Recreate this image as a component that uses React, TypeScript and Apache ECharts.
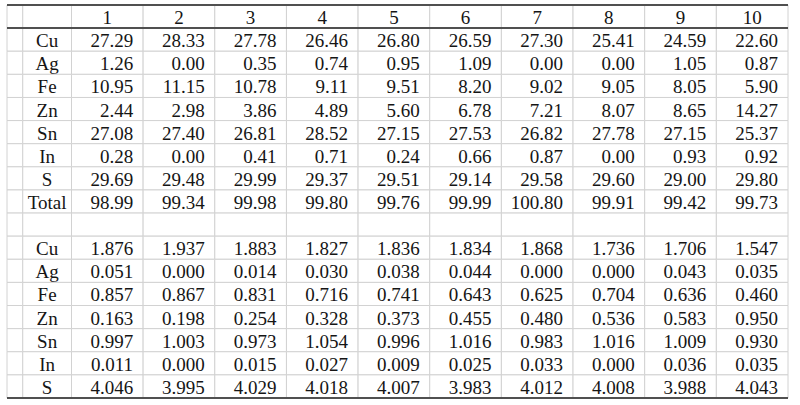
import { useEffect, useRef } from 'react'
import * as echarts from 'echarts'

// column headers (analysis numbers)
const columns = ['1', '2', '3', '4', '5', '6', '7', '8', '9', '10']

// wt% block
const wtLabels = ['Cu', 'Ag', 'Fe', 'Zn', 'Sn', 'In', 'S', 'Total']
const wtCu = [27.29, 28.33, 27.78, 26.46, 26.8, 26.59, 27.3, 25.41, 24.59, 22.6]
const wtAg = [1.26, 0.0, 0.35, 0.74, 0.95, 1.09, 0.0, 0.0, 1.05, 0.87]
const wtFe = [10.95, 11.15, 10.78, 9.11, 9.51, 8.2, 9.02, 9.05, 8.05, 5.9]
const wtZn = [2.44, 2.98, 3.86, 4.89, 5.6, 6.78, 7.21, 8.07, 8.65, 14.27]
const wtSn = [27.08, 27.4, 26.81, 28.52, 27.15, 27.53, 26.82, 27.78, 27.15, 25.37]
const wtIn = [0.28, 0.0, 0.41, 0.71, 0.24, 0.66, 0.87, 0.0, 0.93, 0.92]
const wtS = [29.69, 29.48, 29.99, 29.37, 29.51, 29.14, 29.58, 29.6, 29.0, 29.8]
const wtTotal = [98.99, 99.34, 99.98, 99.8, 99.76, 99.99, 100.8, 99.91, 99.42, 99.73]

// atoms per formula unit block
const apfuLabels = ['Cu', 'Ag', 'Fe', 'Zn', 'Sn', 'In', 'S']
const apfuCu = [1.876, 1.937, 1.883, 1.827, 1.836, 1.834, 1.868, 1.736, 1.706, 1.547]
const apfuAg = [0.051, 0.0, 0.014, 0.03, 0.038, 0.044, 0.0, 0.0, 0.043, 0.035]
const apfuFe = [0.857, 0.867, 0.831, 0.716, 0.741, 0.643, 0.625, 0.704, 0.636, 0.46]
const apfuZn = [0.163, 0.198, 0.254, 0.328, 0.373, 0.455, 0.48, 0.536, 0.583, 0.95]
const apfuSn = [0.997, 1.003, 0.973, 1.054, 0.996, 1.016, 0.983, 1.016, 1.009, 0.93]
const apfuIn = [0.011, 0.0, 0.015, 0.027, 0.009, 0.025, 0.033, 0.0, 0.036, 0.035]
const apfuS = [4.046, 3.995, 4.029, 4.018, 4.007, 3.983, 4.012, 4.008, 3.988, 4.043]

const wtValues = [wtCu, wtAg, wtFe, wtZn, wtSn, wtIn, wtS, wtTotal]
const apfuValues = [apfuCu, apfuAg, apfuFe, apfuZn, apfuSn, apfuIn, apfuS]

// x edges in column units: narrow blank col, label col, then 10 data cols
const colEdges = [-0.9, -0.68, 0, 1, 2, 3, 4, 5, 6, 7, 8, 9, 10]

interface Cell {
  text: string
  align: 'center' | 'right'
}

export default function App() {
  const chartRef = useRef<HTMLDivElement>(null)

  useEffect(() => {
    if (!chartRef.current) return
    document.body.style.margin = '0'

    const chart = echarts.init(chartRef.current, null, { renderer: 'svg' })

    const cells: Cell[] = []
    const data: number[][] = []
    const addRow = (row: number, label: string, texts: string[], align: 'center' | 'right') => {
      const all = ['', label, ...texts]
      all.forEach((t, c) => {
        data.push([colEdges[c], colEdges[c + 1], row])
        cells.push({ text: t, align: c < 2 ? 'center' : align })
      })
    }

    addRow(0, '', columns, 'center')
    wtLabels.forEach((l, i) => addRow(1 + i, l, wtValues[i].map(v => v.toFixed(2)), 'right'))
    addRow(9, '', columns.map(() => ''), 'right')
    apfuLabels.forEach((l, i) => addRow(10 + i, l, apfuValues[i].map(v => v.toFixed(3)), 'right'))

    const option: echarts.EChartsOption = {
      animation: false,
      backgroundColor: '#fff',
      grid: { left: 7, right: 12, top: 5, bottom: 7 },
      xAxis: { type: 'value', min: -0.9, max: 10, show: false },
      yAxis: { type: 'value', min: 0, max: 17, inverse: true, show: false },
      series: [
        {
          type: 'custom',
          encode: { x: [0, 1], y: 2 },
          data,
          renderItem: (params: any, api: any) => {
            const x0 = api.value(0)
            const x1 = api.value(1)
            const r = api.value(2)
            const p0 = api.coord([x0, r])
            const p1 = api.coord([x1, r + 1])
            const cell = cells[params.dataIndex]
            const tx = cell.align === 'right' ? p1[0] - 10 : (p0[0] + p1[0]) / 2
            return {
              type: 'group',
              children: [
                {
                  type: 'rect',
                  shape: { x: p0[0], y: p0[1], width: p1[0] - p0[0], height: p1[1] - p0[1] },
                  style: { fill: '#fff', stroke: '#d2d2d2', lineWidth: 1 }
                },
                {
                  type: 'text',
                  style: {
                    text: cell.text,
                    x: tx,
                    y: (p0[1] + p1[1]) / 2 + 1,
                    align: cell.align,
                    verticalAlign: 'middle',
                    font: '19px "Liberation Serif"',
                    fill: '#151515'
                  }
                }
              ]
            }
          },
          markLine: {
            silent: true,
            symbol: ['none', 'none'],
            label: { show: false },
            lineStyle: { color: '#505050', width: 2, type: 'solid' },
            data: [{ yAxis: 0 }, { yAxis: 1 }, { yAxis: 17 }]
          }
        }
      ]
    }

    chart.setOption(option)

    return () => {
      chart.dispose()
    }
  }, [])

  return <div ref={chartRef} style={{ width: '800px', height: '405px' }} />
}
